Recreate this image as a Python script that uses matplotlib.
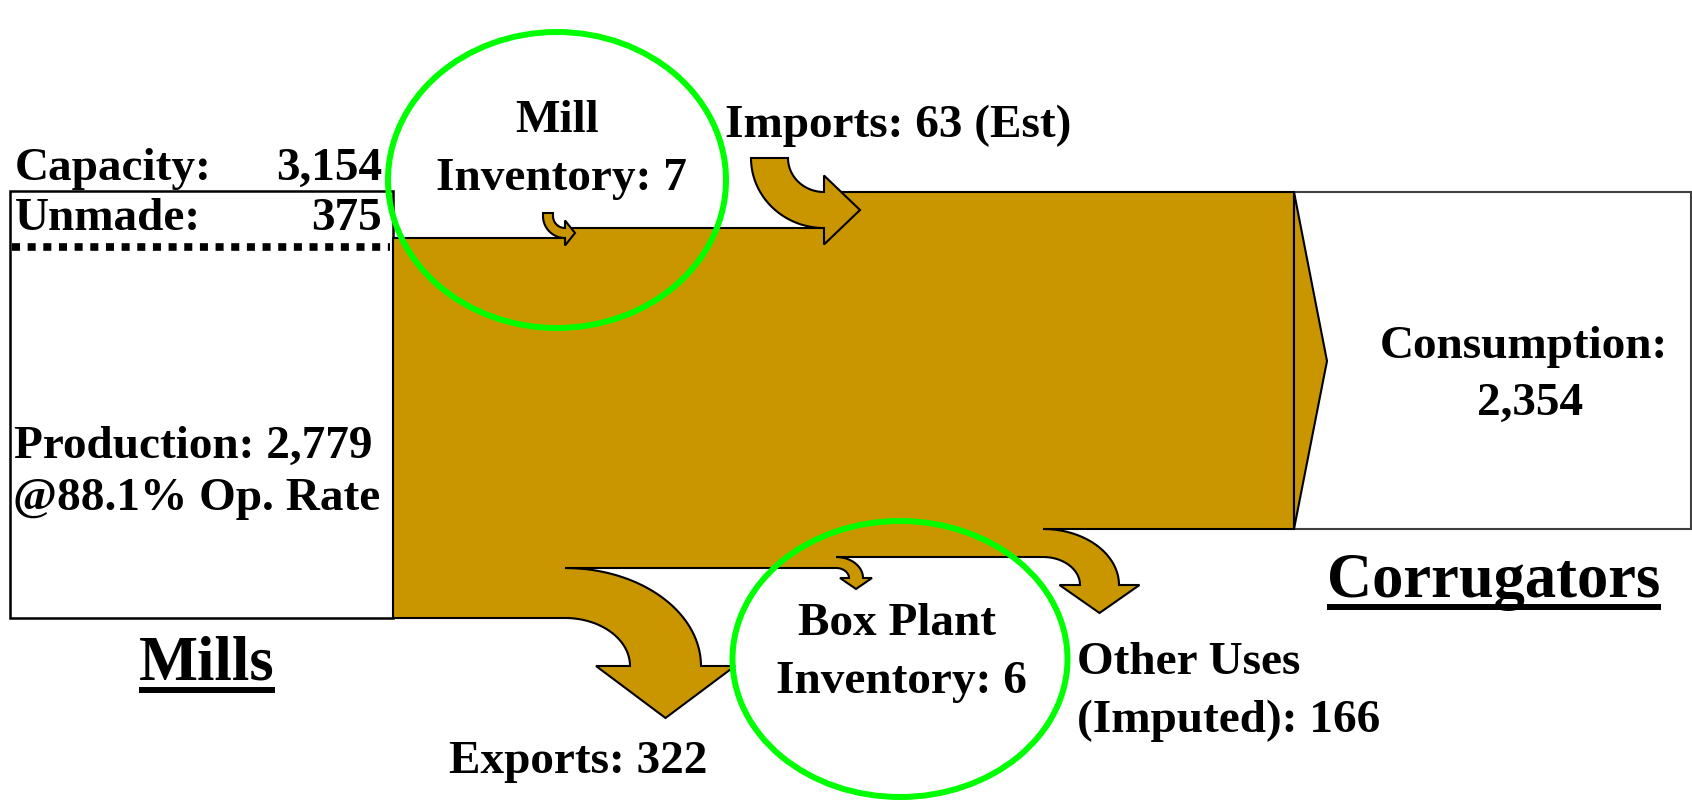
import numpy as np
import matplotlib.pyplot as plt
from matplotlib.patches import Polygon, Rectangle, Ellipse

plt.rcParams['font.family'] = ['Liberation Serif', 'DejaVu Serif']

# --- values (000 tons) ---
capacity = 3154
unmade = 375
production = 2779
op_rate = 88.1
mill_inventory = 7
imports = 63
exports = 322
box_plant_inventory = 6
other_uses = 166
consumption = 2354

BROWN = '#c99600'
GREEN = '#00ff00'
LW = 1.5


def arc(cx, cy, rx, ry, t0, t1, n=40):
    t = np.linspace(t0, t1, n)
    return list(zip(cx + rx * np.cos(t), cy + ry * np.sin(t)))


def down_right_arrow(cx, cy, rin, rout, lead, head_len, head_half):
    # band coming down from above, bending right into the main flow
    (rxi, ryi), (rxo, ryo) = rin, rout
    ymid = cy + (ryi + ryo) / 2
    pts = [(cx - rxo, cy - lead), (cx - rxi, cy - lead)]
    pts += arc(cx, cy, rxi, ryi, np.pi, np.pi / 2)
    pts += [(cx, ymid - head_half), (cx + head_len, ymid), (cx, ymid + head_half)]
    pts += arc(cx, cy, rxo, ryo, np.pi / 2, np.pi)
    return pts


def right_down_arrow(cx, cy, rin, rout, head_len, head_half):
    # band leaving the bottom of the main flow, bending downward
    (rxi, ryi), (rxo, ryo) = rin, rout
    xmid = cx + (rxi + rxo) / 2
    pts = arc(cx, cy, rxo, ryo, -np.pi / 2, 0)
    pts += [(xmid + head_half, cy), (xmid, cy + head_len), (xmid - head_half, cy)]
    pts += arc(cx, cy, rxi, ryi, 0, -np.pi / 2)
    return pts


fig = plt.figure(figsize=(16.92, 8), dpi=100)
ax = fig.add_axes([0, 0, 1, 1])
ax.set_xlim(0, 1692)
ax.set_ylim(800, 0)
ax.axis('off')

# boxes
ax.add_patch(Rectangle((10, 191), 383, 427, facecolor='white', edgecolor='black', lw=1.8, zorder=1))
ax.add_patch(Rectangle((1294, 192), 397, 337, facecolor='white', edgecolor='#404040', lw=1.5, zorder=1))
ax.plot([12, 390], [247, 247], color='black', lw=5.5, linestyle=(0, (1.05, 1.0)),
        dash_capstyle='butt', zorder=2)

# main flow with outgoing arrows
main = [(393, 238), (565, 238), (565, 228), (824, 228), (824, 192), (1294, 192), (1294, 529)]
main += right_down_arrow(1043, 585, (37, 28), (76, 56), 28, 40)     # other uses
main += right_down_arrow(836, 578, (13, 10), (27, 21), 11, 16)      # box plant inventory
main += right_down_arrow(565, 666, (65, 48), (136, 98), 52, 69.5)   # exports
main += [(393, 618)]
ax.add_patch(Polygon(main, closed=True, facecolor=BROWN, edgecolor='black', lw=LW, zorder=2))
ax.add_patch(Polygon([(1294, 192), (1327, 361), (1294, 529)], closed=True,
                     facecolor=BROWN, edgecolor='black', lw=LW, zorder=3))

# incoming arrows
ax.add_patch(Polygon(down_right_arrow(565, 216, (12, 12), (22, 22), 3, 10, 12.5), closed=True,
                     facecolor=BROWN, edgecolor='black', lw=LW, zorder=4))
ax.add_patch(Polygon(down_right_arrow(824, 158, (36, 34), (73, 70), 0, 36, 34.5), closed=True,
                     facecolor=BROWN, edgecolor='black', lw=LW, zorder=4))

# inventory circles
ax.add_patch(Ellipse((557, 180), 338, 296, facecolor='none', edgecolor=GREEN, lw=4.3, zorder=5))
ax.add_patch(Ellipse((900, 659), 335, 276, facecolor='none', edgecolor=GREEN, lw=4.3, zorder=5))

fs = 34
kw = dict(fontsize=fs, fontweight='bold', va='baseline', zorder=6)
ax.text(15, 180, 'Capacity:', ha='left', **kw)
ax.text(382, 180, f'{capacity:,}', ha='right', **kw)
ax.text(15, 230, 'Unmade:', ha='left', **kw)
ax.text(382, 230, f'{unmade:,}', ha='right', **kw)
ax.text(14, 458, f'Production: {production:,}', ha='left', **kw)
ax.text(13, 510, f'@{op_rate}% Op. Rate', ha='left', **kw)
ax.text(557, 132, 'Mill', ha='center', **kw)
ax.text(561, 190, f'Inventory: {mill_inventory}', ha='center', **kw)
ax.text(725, 137, f'Imports: {imports} (Est)', ha='left', **kw)
ax.text(1524, 358, 'Consumption:', ha='center', **kw)
ax.text(1530, 415, f'{consumption:,}', ha='center', **kw)
ax.text(897, 635, 'Box Plant', ha='center', **kw)
ax.text(901, 693, f'Inventory: {box_plant_inventory}', ha='center', **kw)
ax.text(578, 773, f'Exports: {exports}', ha='center', **kw)
ax.text(1077, 674, 'Other Uses', ha='left', **kw)
ax.text(1077, 732, f'(Imputed): {other_uses}', ha='left', **kw)

# underlined headings
titles = [ax.text(207, 680, 'Mills', ha='center', fontsize=45, fontweight='bold', va='baseline'),
          ax.text(1494, 597, 'Corrugators', ha='center', fontsize=45, fontweight='bold', va='baseline')]
fig.canvas.draw()
inv = ax.transData.inverted()
for t in titles:
    bb = t.get_window_extent()
    (x0, _), (x1, _) = inv.transform([(bb.x0, bb.y0), (bb.x1, bb.y1)])
    ybase = t.get_position()[1]
    ax.plot([x0, x1], [ybase + 10, ybase + 10], color='black', lw=4.3, solid_capstyle='butt')

fig.savefig('out.png', dpi=100)
